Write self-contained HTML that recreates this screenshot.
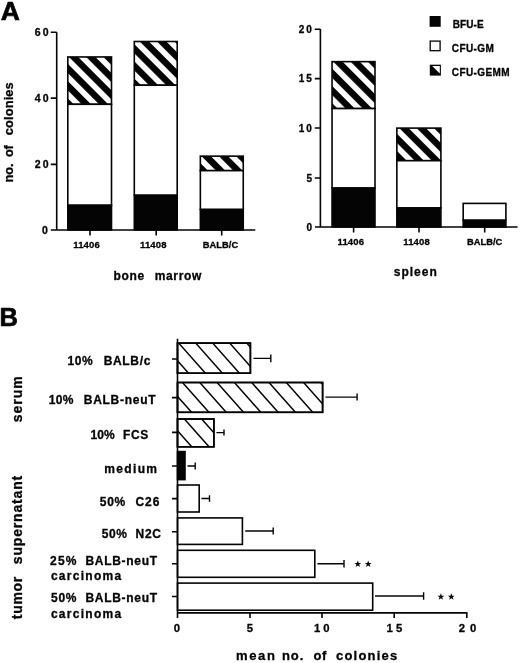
<!DOCTYPE html>
<html>
<head>
<meta charset="utf-8">
<title>Figure</title>
<style>
html,body{margin:0;padding:0;background:#fff;}
body{width:520px;height:663px;overflow:hidden;font-family:"Liberation Sans",sans-serif;}
svg{display:block;filter:blur(0.4px);}
text{font-family:"Liberation Sans",sans-serif;font-weight:bold;fill:#040404;stroke:#040404;stroke-width:0.3px;stroke-linejoin:round;}
.ax{stroke:#040404;stroke-width:1.6;fill:none;}
.bar{stroke:#040404;stroke-width:1.6;}
.tk{font-size:10.5px;letter-spacing:2.3px;}
.tk2{font-size:10px;letter-spacing:2.1px;}
.cat{font-size:9.5px;letter-spacing:0.15px;}
.catb{font-size:9.35px;letter-spacing:0px;}
.ttl{font-size:12px;letter-spacing:0.65px;word-spacing:5.5px;}
.lg{font-size:10px;letter-spacing:0.4px;}
.lb{font-size:13px;letter-spacing:0.6px;word-spacing:5px;}
.h{stroke:#040404;stroke-width:1.5;}
</style>
</head>
<body>
<svg width="520" height="663" viewBox="0 0 520 663">
<defs>
  <pattern id="stL1" width="12.2" height="12.2" patternUnits="userSpaceOnUse" patternTransform="translate(21.2 0) rotate(45)"><rect x="0" y="0" width="12.2" height="12.2" fill="#fff"/><rect x="0" y="0" width="12.2" height="6.5" fill="#040404"/></pattern>
  <pattern id="stL2" width="12.2" height="12.2" patternUnits="userSpaceOnUse" patternTransform="translate(21.2 0) rotate(45)"><rect x="0" y="0" width="12.2" height="12.2" fill="#fff"/><rect x="0" y="0" width="12.2" height="6.5" fill="#040404"/></pattern>
  <pattern id="stL3" width="12.2" height="12.2" patternUnits="userSpaceOnUse" patternTransform="translate(20.1 0) rotate(45)"><rect x="0" y="0" width="12.2" height="12.2" fill="#fff"/><rect x="0" y="0" width="12.2" height="6.5" fill="#040404"/></pattern>
  <pattern id="stR1" width="12.2" height="12.2" patternUnits="userSpaceOnUse" patternTransform="translate(22.0 0) rotate(45)"><rect x="0" y="0" width="12.2" height="12.2" fill="#fff"/><rect x="0" y="0" width="12.2" height="6.5" fill="#040404"/></pattern>
  <pattern id="stR2" width="12.2" height="12.2" patternUnits="userSpaceOnUse" patternTransform="translate(21.7 0) rotate(45)"><rect x="0" y="0" width="12.2" height="12.2" fill="#fff"/><rect x="0" y="0" width="12.2" height="6.5" fill="#040404"/></pattern>
  
</defs>
<rect x="0" y="0" width="520" height="663" fill="#fff"/>

<!-- ================= PANEL A ================= -->
<text x="0.7" y="19.6" font-size="26.5" style="stroke-width:0.7px">A</text>

<!-- left chart -->
<g id="bm">
  <!-- bars -->
  <rect class="bar" x="67.80" y="56.95" width="43.70" height="47.35" fill="url(#stL1)"/>
  <rect class="bar" x="67.80" y="104.30" width="43.70" height="101.00" fill="#fff"/>
  <rect class="bar" x="67.80" y="205.30" width="43.70" height="24.70" fill="#040404"/>
  <rect class="bar" x="134.30" y="41.50" width="42.90" height="43.70" fill="url(#stL2)"/>
  <rect class="bar" x="134.30" y="85.20" width="42.90" height="110.10" fill="#fff"/>
  <rect class="bar" x="134.30" y="195.30" width="42.90" height="34.70" fill="#040404"/>
  <rect class="bar" x="200.35" y="156.15" width="42.90" height="14.50" fill="url(#stL3)"/>
  <rect class="bar" x="200.35" y="170.65" width="42.90" height="38.85" fill="#fff"/>
  <rect class="bar" x="200.35" y="209.50" width="42.90" height="20.50" fill="#040404"/>
  <!-- axes -->
  <path class="ax" d="M56.7 32.2V230M50.8 230H255.3"/>
  <path class="ax" d="M50.8 32.2H56.7M50.8 98.1H56.7M50.8 164.4H56.7"/>
  <path class="ax" d="M90 230V235.4M156.2 230V235.4M221.7 230V235.4"/>
  <text class="tk" x="34.7" y="35.9">60</text>
  <text class="tk" x="34.7" y="101.7">40</text>
  <text class="tk" x="34.7" y="168">20</text>
  <text class="tk" x="42.1" y="233.7">0</text>
  <text class="cat" x="86.6" y="248" text-anchor="middle">11406</text>
  <text class="cat" x="153.3" y="248" text-anchor="middle">11408</text>
  <text class="catb" x="220.5" y="248" text-anchor="middle">BALB/C</text>
</g>

<!-- right chart -->
<g id="sp">
  <rect class="bar" x="332.05" y="61.65" width="42.95" height="46.90" fill="url(#stR1)"/>
  <rect class="bar" x="332.05" y="108.55" width="42.95" height="79.50" fill="#fff"/>
  <rect class="bar" x="332.05" y="188.05" width="42.95" height="38.95" fill="#040404"/>
  <rect class="bar" x="396.85" y="128.10" width="44.05" height="32.60" fill="url(#stR2)"/>
  <rect class="bar" x="396.85" y="160.70" width="44.05" height="47.25" fill="#fff"/>
  <rect class="bar" x="396.85" y="207.95" width="44.05" height="19.05" fill="#040404"/>
  <rect class="bar" x="463.20" y="203.40" width="42.70" height="16.90" fill="#fff"/>
  <rect class="bar" x="463.20" y="220.30" width="42.70" height="6.70" fill="#040404"/>
  <path class="ax" d="M320.4 29V227M315 227H517.6"/>
  <path class="ax" d="M314.8 29.2H320.4M314.8 78.6H320.4M314.8 128H320.4M314.8 178H320.4"/>
  <path class="ax" d="M353.6 227V232.4M419 227V232.4M484.7 227V232.4"/>
  <text class="tk2" x="298.7" y="32.8">20</text>
  <text class="tk2" x="298.7" y="82.2">15</text>
  <text class="tk2" x="298.7" y="131.6">10</text>
  <text class="tk2" x="306.4" y="181.7">5</text>
  <text class="tk2" x="306.4" y="231">0</text>
  <text class="cat" x="350.8" y="244.6" text-anchor="middle">11406</text>
  <text class="cat" x="416.6" y="244.6" text-anchor="middle">11408</text>
  <text class="catb" x="484.7" y="245.1" text-anchor="middle">BALB/C</text>

  <!-- legend -->
  <rect x="429.6" y="16" width="11.1" height="10.8" fill="#040404"/>
  <rect x="430.2" y="41.1" width="9.9" height="9.6" fill="#fff" stroke="#040404" stroke-width="1.3"/>
  <rect x="429.8" y="64.7" width="11.1" height="10.9" fill="#040404"/>
  <path d="M432.2 66.1H439.8V73.4Z" fill="#fff"/>
  <text class="lg" x="452.7" y="27.9" style="letter-spacing:0.1px">BFU-E</text>
  <text class="lg" x="451.8" y="51.6">CFU-GM</text>
  <text class="lg" x="451.8" y="76">CFU-GEMM</text>
</g>

<!-- ================= PANEL B ================= -->
<text x="-0.6" y="326" font-size="25.5" style="stroke-width:0.7px">B</text>
<g id="pb">
<defs>
<clipPath id="c0"><rect x="177.5" y="343.1" width="72.9" height="30.1"/></clipPath>
<clipPath id="c1"><rect x="177.5" y="382.5" width="145.1" height="29.8"/></clipPath>
<clipPath id="c2"><rect x="177.5" y="419" width="36.4" height="27.8"/></clipPath>
</defs>
<rect class="bar" x="177.5" y="343.1" width="72.9" height="30.1" fill="#fff"/>
<g clip-path="url(#c0)" class="h"><path d="M161.8 343.1l30 33.8M178.7 343.1l30 33.8M195.7 343.1l30 33.8M212.7 343.1l30 33.8M229.7 343.1l30 33.8M246.7 343.1l30 33.8"/></g>
<rect class="bar" x="177.5" y="343.1" width="72.9" height="30.1" fill="none"/>
<rect class="bar" x="177.5" y="382.5" width="145.1" height="29.8" fill="#fff"/>
<g clip-path="url(#c1)" class="h"><path d="M165.2 382.5l30 33.8M182.5 382.5l30 33.8M199.8 382.5l30 33.8M217.1 382.5l30 33.8M234.4 382.5l30 33.8M251.7 382.5l30 33.8M269 382.5l30 33.8M286.3 382.5l30 33.8M303.6 382.5l30 33.8M320.9 382.5l30 33.8"/></g>
<rect class="bar" x="177.5" y="382.5" width="145.1" height="29.8" fill="none"/>
<rect class="bar" x="177.5" y="419" width="36.4" height="27.8" fill="#fff"/>
<g clip-path="url(#c2)" class="h"><path d="M167.1 419l30 33.8M184.4 419l30 33.8M201.7 419l30 33.8"/></g>
<rect class="bar" x="177.5" y="419" width="36.4" height="27.8" fill="none"/>
<rect class="bar" x="177.5" y="451.6" width="7.5" height="28.0" fill="#040404"/>
<rect class="bar" x="177.5" y="485.0" width="21.7" height="27.0" fill="#fff"/>
<rect class="bar" x="177.5" y="517.9" width="64.9" height="26.5" fill="#fff"/>
<rect class="bar" x="177.5" y="550.3" width="137.3" height="27.0" fill="#fff"/>
<rect class="bar" x="177.5" y="583.1" width="195.2" height="27.1" fill="#fff"/>
<path class="ax" style="stroke-width:1.4" d="M253.5 358.4H270.8M270.8 354.6V362.2M325.4 397.1H357.1M357.1 393.6V400.6M216.4 432.6H224M224 429.6V435.6M187.5 466H195.2M195.2 462.6V469.4M201.4 498.5H209.5M209.5 495.3V501.7M245.2 531H273.2M273.2 527.4V534.6M317.4 563.8H344M344 560.0V567.6M375 596H423.6M423.6 592.2V599.8"/>
<path class="ax" d="M177.5 338.7V618M177.5 612.9H467.5"/>
<path class="ax" d="M172 359H177.5M172 397.6H177.5M172 432.4H177.5M172 466H177.5M172 498.6H177.5M172 531.7H177.5M172 563.8H177.5M172 596.5H177.5"/>
<path class="ax" d="M250 612.9V618M322 612.9V618M394.2 612.9V618M466.8 612.9V618"/>
<g fill="#040404"><path d="M0 -3.1L0.8 -1H3L1.2 0.3L1.9 2.5L0 1.2L-1.9 2.5L-1.2 0.3L-3 -1H-0.8Z" transform="translate(357.8 564.1) scale(1.15)"/><path d="M0 -3.1L0.8 -1H3L1.2 0.3L1.9 2.5L0 1.2L-1.9 2.5L-1.2 0.3L-3 -1H-0.8Z" transform="translate(368.2 564.1) scale(1.15)"/><path d="M0 -3.1L0.8 -1H3L1.2 0.3L1.9 2.5L0 1.2L-1.9 2.5L-1.2 0.3L-3 -1H-0.8Z" transform="translate(440.9 596.8) scale(1.15)"/><path d="M0 -3.1L0.8 -1H3L1.2 0.3L1.9 2.5L0 1.2L-1.9 2.5L-1.2 0.3L-3 -1H-0.8Z" transform="translate(451.3 596.8) scale(1.15)"/></g>
</g>
<g id="gentext">
<text x="113.55" y="279.50" style="font-size:12px;letter-spacing:0.628px">bone</text>
<text x="154.65" y="279.50" style="font-size:12px;letter-spacing:0.692px">marrow</text>
<text x="393.82" y="275.80" style="font-size:12px;letter-spacing:0.988px">spleen</text>
<text x="67.50" y="364.50" style="font-size:12px;letter-spacing:0.576px">10%</text>
<text x="103.75" y="364.50" style="font-size:12px;letter-spacing:0.643px">BALB/c</text>
<text x="48.75" y="404.25" style="font-size:12px;letter-spacing:0.326px">10%</text>
<text x="83.75" y="404.25" style="font-size:12px;letter-spacing:0.722px">BALB-neuT</text>
<text x="90.50" y="439.25" style="font-size:12px;letter-spacing:0.076px">10%</text>
<text x="123.00" y="439.25" style="font-size:12px;letter-spacing:0.658px">FCS</text>
<text x="104.25" y="473.00" style="font-size:12px;letter-spacing:1.345px">medium</text>
<text x="99.81" y="505.50" style="font-size:12px;letter-spacing:0.670px">50%</text>
<text x="135.38" y="505.50" style="font-size:12px;letter-spacing:1.080px">C26</text>
<text x="101.81" y="538.00" style="font-size:12px;letter-spacing:0.545px">50%</text>
<text x="135.50" y="538.00" style="font-size:12px;letter-spacing:0.736px">N2C</text>
<text x="50.12" y="565.00" style="font-size:12px;letter-spacing:1.139px">25%</text>
<text x="85.50" y="565.00" style="font-size:12px;letter-spacing:0.691px">BALB-neuT</text>
<text x="50.88" y="580.00" style="font-size:12px;letter-spacing:1.284px">carcinoma</text>
<text x="51.06" y="602.00" style="font-size:12px;letter-spacing:0.670px">50%</text>
<text x="85.50" y="602.00" style="font-size:12px;letter-spacing:0.691px">BALB-neuT</text>
<text x="50.88" y="617.50" style="font-size:12px;letter-spacing:1.284px">carcinoma</text>
<text x="173.75" y="632.20" style="font-size:11.3px;letter-spacing:0.000px">0</text>
<text x="246.82" y="632.10" style="font-size:11.3px;letter-spacing:0.000px">5</text>
<text x="314.09" y="632.10" style="font-size:11.3px;letter-spacing:2.995px">10</text>
<text x="386.49" y="632.10" style="font-size:11.3px;letter-spacing:3.319px">15</text>
<text x="458.85" y="632.10" style="font-size:11.3px;letter-spacing:4.842px">20</text>
<text x="235.89" y="660.10" style="font-size:13px;letter-spacing:1.694px">mean</text>
<text x="281.89" y="660.10" style="font-size:13px;letter-spacing:0.943px">no.</text>
<text x="313.39" y="660.10" style="font-size:13px;letter-spacing:0.797px">of</text>
<text x="335.99" y="660.10" style="font-size:13px;letter-spacing:1.214px">colonies</text>
<text transform="translate(13.10 182.40) rotate(-90)" style="font-size:12.8px;letter-spacing:-0.169px">no.</text>
<text transform="translate(13.10 156.90) rotate(-90)" style="font-size:12.8px;letter-spacing:-0.519px">of</text>
<text transform="translate(13.10 135.20) rotate(-90)" style="font-size:12.8px;letter-spacing:0.142px">colonies</text>
<text transform="translate(22.10 422.14) rotate(-90)" style="font-size:14px;letter-spacing:0.968px">serum</text>
<text transform="translate(22.00 619.20) rotate(-90)" style="font-size:14px;letter-spacing:0.684px">tumor</text>
<text transform="translate(22.00 564.14) rotate(-90)" style="font-size:14px;letter-spacing:0.818px">supernatant</text>
</g>
</svg>
</body>
</html>
